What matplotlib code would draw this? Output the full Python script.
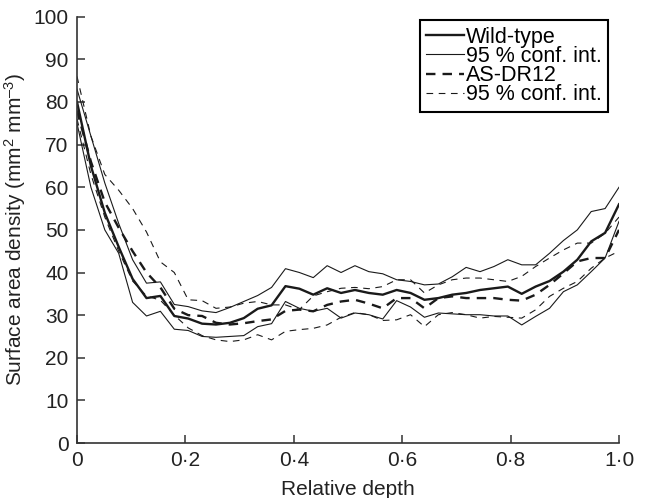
import numpy as np
import matplotlib
matplotlib.use("Agg")
import matplotlib.pyplot as plt

plt.rcParams['font.family'] = ['Liberation Sans', 'DejaVu Sans']
plt.rcParams['mathtext.fontset'] = 'custom'
plt.rcParams['mathtext.rm'] = 'Liberation Sans'
plt.rcParams['mathtext.it'] = 'Liberation Sans'

# 40 sampling positions across the relative depth
depth = np.linspace(0, 1, 40)

# wild-type mean and 95 % conf. int.
wt = [80, 65, 54, 46, 38.5, 34, 34.5, 29.8, 29.2, 28, 27.8, 28.2, 29.3, 31.5, 32.3, 36.8,
      36.2, 34.8, 36.3, 35.2, 35.9, 35.2, 34.8, 35.9, 35.2, 33.6, 34.0, 34.8, 35.2, 35.9,
      36.3, 36.7, 35.0, 36.7, 38.0, 40.2, 43.0, 47.3, 49.3, 56]
wt_hi = [83, 72, 61, 51.5, 43, 37.5, 37.8, 32.5, 32, 31, 30.6, 31.8, 33.2, 34.6, 36.5, 40.9,
         40, 38.8, 41.6, 40, 41.6, 40.2, 39.7, 38.3, 37.9, 37.1, 37.3, 39, 41.2, 40.2,
         41.4, 43, 41.8, 41.8, 44.5, 47.5, 50, 54.3, 55, 60]
wt_lo = [75, 60, 50, 44.5, 33, 29.8, 30.9, 26.7, 26.4, 25, 24.8, 25, 25.2, 27.3, 28, 33.2,
         31.6, 30.9, 31.6, 29.3, 30.5, 30.1, 29.1, 33.4, 31.9, 29.5, 30.5, 30.3, 30.1, 30.1,
         29.8, 29.8, 27.7, 29.7, 31.6, 35.5, 37.1, 40.2, 43.4, 52]

# AS-DR12 mean and 95 % conf. int.
as_dr = [78, 66, 56.5, 50.5, 45, 40, 36.5, 31.5, 30, 29.8, 28.2, 27.8, 28.1, 28.6, 29, 31,
         31.3, 30.9, 32.4, 33.2, 33.6, 32.7, 31.6, 34, 34, 31.6, 34, 34.4, 34, 34,
         34, 33.6, 33.4, 34.8, 37.1, 39.8, 42.6, 43.4, 43.4, 50]
as_hi = [86, 72, 63, 59.3, 55, 49.5, 42.5, 40, 33.6, 33.4, 31.6, 31.9, 32.8, 33.2, 32.4, 32.4,
         31.3, 34.5, 35.5, 36.3, 36.5, 36.2, 36.7, 38.3, 38.3, 35.2, 37.1, 38.3, 38.7, 38.7,
         38.3, 37.9, 39.1, 41.4, 43.4, 45.3, 46.9, 46.9, 49.2, 53]
as_lo = [76, 63, 53, 45, 38, 34.5, 33.5, 30, 27, 25.2, 24.2, 23.8, 24.2, 25.4, 24.2, 26.2,
         26.6, 26.9, 27.7, 29.5, 30.6, 30.1, 28.75, 28.9, 30.1, 27.3, 30.1, 30.6, 30.1, 29.3,
         29.7, 29.5, 29.3, 31.25, 34.4, 36.3, 37.9, 41, 43.4, 45]

xticks = [0, 0.2, 0.4, 0.6, 0.8, 1.0]
xticklabels = ['0', '0·2', '0·4', '0·6', '0·8', '1·0']
yticks = list(range(0, 101, 10))

col = '#1a1a1a'
fig = plt.figure(figsize=(6.45, 4.98), dpi=100)
ax = fig.add_axes([0.1194, 0.1104, 0.8403, 0.856])

ax.plot(depth, wt, '-', color=col, lw=1.7, label='Wild-type')
ax.plot(depth, wt_hi, '-', color=col, lw=0.8, label='95 % conf. int.')
ax.plot(depth, wt_lo, '-', color=col, lw=0.8)
ax.plot(depth, as_dr, '--', color=col, lw=1.7, dashes=(4, 3), label='AS-DR12')
ax.plot(depth, as_hi, '--', color=col, lw=0.8, dashes=(6, 5), label='95 % conf. int.')
ax.plot(depth, as_lo, '--', color=col, lw=0.8, dashes=(6, 5))

ax.set_xlim(0, 1)
ax.set_ylim(0, 100)
ax.set_xticks(xticks)
ax.set_xticklabels(xticklabels)
ax.set_yticks(yticks)
ax.tick_params(direction='in', length=6, width=1.1, labelsize=15, pad=6, colors='#333333',
               labelcolor='#222222')
for s in ['top', 'right']:
    ax.spines[s].set_visible(False)
for s in ['left', 'bottom']:
    ax.spines[s].set_linewidth(1.2)
    ax.spines[s].set_color('#333333')

ax.set_xlabel('Relative depth', fontsize=15, color='#222222', labelpad=7)
ax.set_ylabel('Surface area density (mm$^2$ mm$^{–3}$)', fontsize=15, color='#222222',
              labelpad=4)

leg = ax.legend(loc='upper right', bbox_to_anchor=(0.98, 0.992), borderaxespad=0,
                fontsize=15.5, fancybox=False, edgecolor='black', framealpha=1,
                labelspacing=-0.08, handlelength=1.75, handletextpad=0.1, borderpad=0.3)
leg.get_frame().set_linewidth(1.5)

fig.savefig('out.png', dpi=100)
